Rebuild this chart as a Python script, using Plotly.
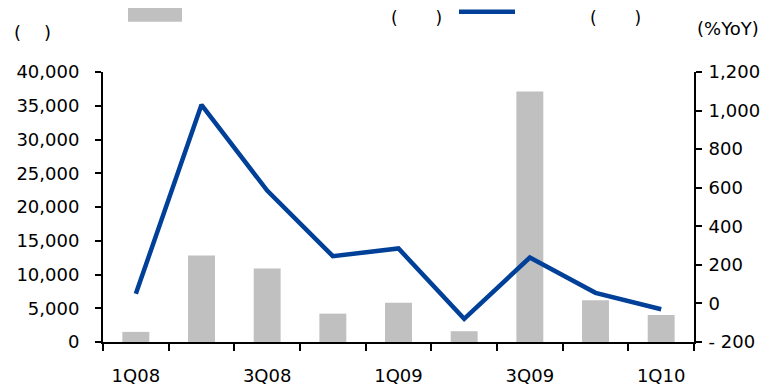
import plotly.graph_objects as go

# ---- data ----
quarters = ["1Q08", "2Q08", "3Q08", "4Q08", "1Q09", "2Q09", "3Q09", "4Q09", "1Q10"]
bar_values = [1500, 12800, 10900, 4200, 5800, 1600, 37100, 6200, 4000]
yoy_values = [50, 1030, 585, 245, 285, -80, 238, 55, -30]
x_ticktext = ["1Q08", "", "3Q08", "", "1Q09", "", "3Q09", "", "1Q10"]
y2_tickvals = [-200, 0, 200, 400, 600, 800, 1000, 1200]
y2_ticktext = ["- 200", "0", "200", "400", "600", "800", "1,000", "1,200"]
NB = "\u00a0"
bar_label = "(" + NB * 7 + ")"
line_label = "(" + NB * 7 + ")"
left_unit = "(" + NB * 4 + ")"
right_unit = "(%YoY)"

BAR_COLOR = "#C0C0C0"
LINE_COLOR = "#004098"
FONT = "DejaVu Sans"
FS = 18

OFF = 8  # default page body margin
W, H = 777 - OFF, 390 - OFF
L, R, T, B = 103 - OFF, 694 - OFF, 72 - OFF, 342.5 - OFF


def px(x):
    return (x - OFF - L) / (R - L)


def py(y):
    return (B - (y - OFF)) / (B - T)


fig = go.Figure()
fig.add_trace(go.Bar(x=quarters, y=bar_values, marker=dict(color=BAR_COLOR, line=dict(width=0)),
                     yaxis="y", showlegend=False))
fig.add_trace(go.Scatter(x=quarters, y=yoy_values, mode="lines",
                         line=dict(color=LINE_COLOR, width=4.5), yaxis="y2", showlegend=False))

axis_common = dict(showline=True, linecolor="black", linewidth=2, ticks="outside",
                   tickcolor="black", tickwidth=2, showgrid=False, zeroline=False,
                   automargin=False,
                   tickfont=dict(family=FONT, size=FS, color="black"))

fig.update_layout(
    width=W, height=H,
    margin=dict(l=L, r=W - R, t=T, b=H - B, pad=0),
    plot_bgcolor="white", paper_bgcolor="white",
    bargap=0.59,
    xaxis=dict(**axis_common, type="category", tickson="boundaries", ticklen=7,
               tickvals=quarters, ticktext=x_ticktext, ticklabelstandoff=16),
    yaxis=dict(**axis_common, range=[0, 40000], dtick=5000, tickformat=",", ticklen=6,
               ticklabelstandoff=12),
    yaxis2=dict(**axis_common, overlaying="y", side="right", range=[-200, 1200],
                tickvals=y2_tickvals, ticktext=y2_ticktext, ticklen=6, ticklabelstandoff=3),
)

# legend-like header drawn manually
fig.add_shape(type="rect", xref="paper", yref="paper",
              x0=px(128), x1=px(182), y0=py(21.7), y1=py(6.7),
              fillcolor=BAR_COLOR, line=dict(width=0))
fig.add_shape(type="line", xref="paper", yref="paper",
              x0=px(459), x1=px(515), y0=py(11.7), y1=py(11.7),
              line=dict(color=LINE_COLOR, width=4.5))


def ann(text, x, y, size=FS):
    fig.add_annotation(text=text, xref="paper", yref="paper", x=px(x), y=py(y),
                       xanchor="center", yanchor="middle", showarrow=False, borderpad=0,
                       font=dict(family=FONT, size=size, color="black"))


ann(bar_label, 416, 18, 17)
ann(line_label, 615, 18, 17)
ann(right_unit, 728, 28)
ann(left_unit, 32, 32)

fig.write_html("out.html")
